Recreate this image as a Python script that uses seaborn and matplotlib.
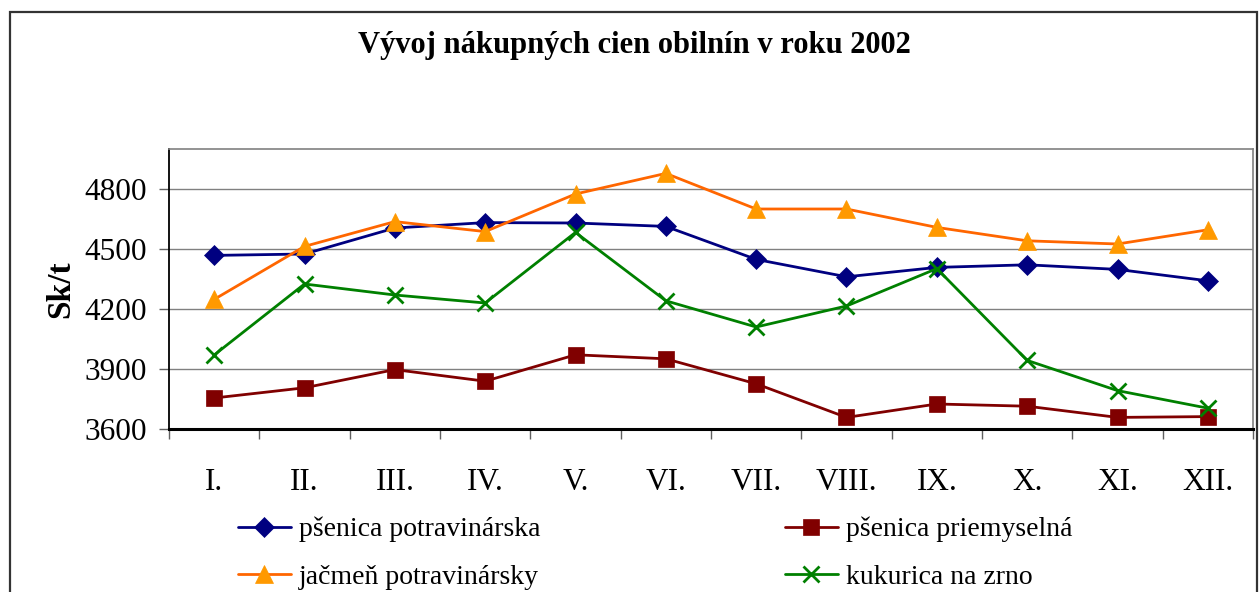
import numpy as np
import pandas as pd
import seaborn as sns
import matplotlib.pyplot as plt
from matplotlib.patches import Rectangle

# data (Sk/t)
months = ['I.', 'II.', 'III.', 'IV.', 'V.', 'VI.', 'VII.', 'VIII.', 'IX.', 'X.', 'XI.', 'XII.']
psenica_potr = [4468, 4475, 4605, 4632, 4630, 4613, 4448, 4361, 4408, 4421, 4398, 4341]
psenica_priem = [3755, 3806, 3897, 3839, 3971, 3951, 3826, 3658, 3725, 3714, 3658, 3662]
jacmen_potr = [4248, 4513, 4637, 4587, 4775, 4878, 4700, 4700, 4608, 4541, 4525, 4596]
kukurica = [3970, 4325, 4270, 4230, 4583, 4241, 4110, 4215, 4402, 3943, 3792, 3704]
yticks = [3600, 3900, 4200, 4500, 4800]

sns.set_style("white")
plt.rcParams['font.family'] = ['Liberation Serif', 'DejaVu Serif']
plt.rcParams['text.color'] = 'black'
plt.rcParams['axes.labelcolor'] = 'black'
plt.rcParams['xtick.labelcolor'] = 'black'
plt.rcParams['ytick.labelcolor'] = 'black'

fig = plt.figure(figsize=(12.59, 5.92), dpi=100)
ax = fig.add_axes([169 / 1259, 1 - 429 / 592, (1253 - 169) / 1259, (429 - 149) / 592])

series = [
    ('pšenica potravinárska', psenica_potr, '#000080', '#000080', 'D', 10.5),
    ('jačmeň potravinársky', jacmen_potr, '#FF6600', '#FF9900', '^', 13),
    ('pšenica priemyselná', psenica_priem, '#800000', '#800000', 's', 11.5),
    ('kukurica na zrno', kukurica, '#008000', '#008000', 'x', 12),
]
for name, vals, col, mcol, mk, ms in series:
    df = pd.DataFrame({'mesiac': months, 'cena': vals})
    sns.lineplot(data=df, x='mesiac', y='cena', ax=ax, sort=False, color=col,
                 linewidth=2, marker=mk, markersize=ms, markerfacecolor=mcol,
                 markeredgecolor=mcol, markeredgewidth=2 if mk == 'x' else 0.5,
                 label=name)

ax.set_xlim(-0.5, len(months) - 0.5)
ax.set_ylim(3600, 5000)
ax.set_yticks(yticks)
ax.yaxis.grid(True, color='#808080', linewidth=1)
ax.set_axisbelow(True)
ax.set_xlabel('')
ax.set_ylabel('Sk/t', fontsize=24, fontweight='bold', labelpad=6)

ax.set_xticks(range(len(months)))
ax.set_xticklabels(months)
ax.set_xticks(np.arange(-0.5, len(months), 1), minor=True)
ax.tick_params(axis='x', which='major', length=0, pad=28, labelsize=22.5)
ax.tick_params(axis='x', which='minor', length=7, width=1, color='#606060', direction='out', bottom=True)
ax.tick_params(axis='y', length=7, width=1, color='#606060', pad=9, labelsize=22.5, left=True)

for s in ['top', 'right']:
    ax.spines[s].set_color('#808080')
    ax.spines[s].set_linewidth(1.2)
ax.spines['left'].set_color('black')
ax.spines['left'].set_linewidth(1.3)
ax.spines['bottom'].set_color('black')
ax.spines['bottom'].set_linewidth(2.2)

handles, labels = ax.get_legend_handles_labels()
ax.get_legend().remove()
fig.legend(handles, labels, ncol=2, loc='upper left', bbox_to_anchor=(224 / 1259, 1 - 503 / 592),
           frameon=False, fontsize=20, borderpad=0, handlelength=1.9, handletextpad=0.3,
           columnspacing=8.8, labelspacing=0.8)

fig.text(0.504, 1 - 46 / 592, 'Vývoj nákupných cien obilnín v roku 2002',
         ha='center', va='center', fontsize=22, fontweight='bold')

fig.add_artist(Rectangle((10 / 1259, -0.1), (1257 - 10) / 1259, 1.1 - 12 / 592,
                         transform=fig.transFigure, fill=False, edgecolor='#333333',
                         linewidth=1.6, clip_on=False))

fig.savefig('out.png', dpi=100)
